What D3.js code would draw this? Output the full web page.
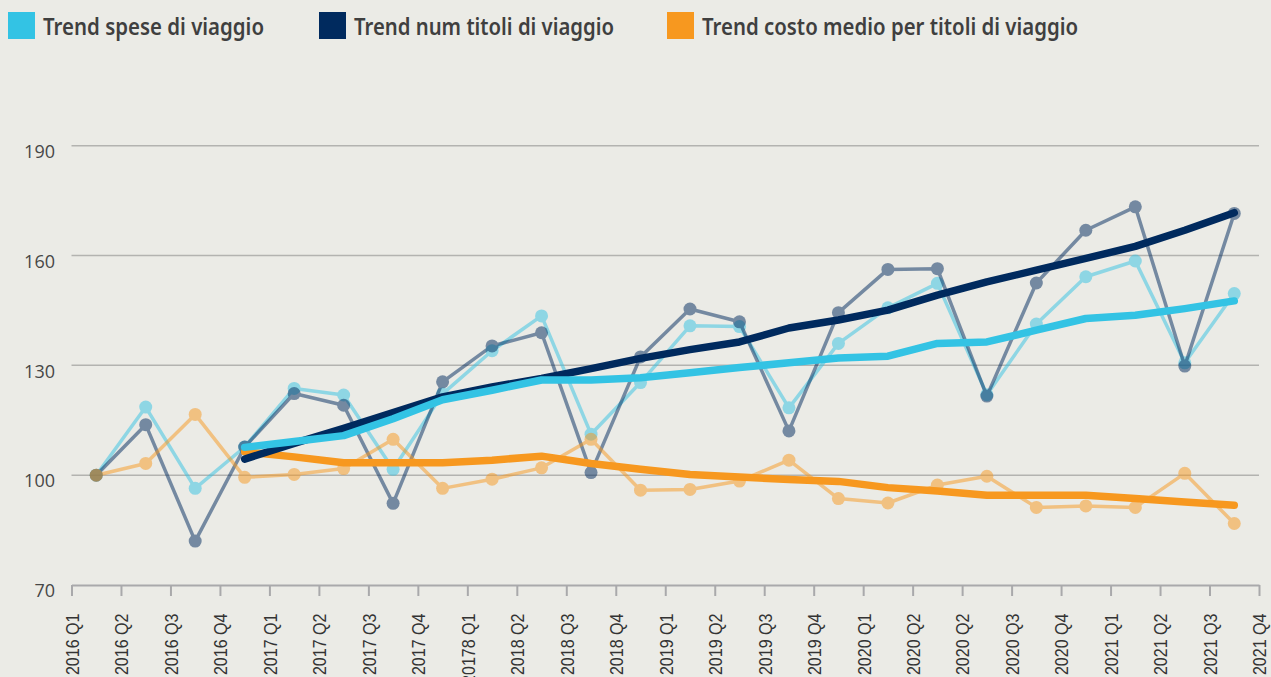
<!DOCTYPE html>
<html>
<head>
<meta charset="utf-8">
<script src="https://cdn.jsdelivr.net/npm/d3@7"></script>
<style>
  body { margin: 0; background: #ebebe6; }
  svg { display: block; }
</style>
</head>
<body>
<div id="chart"></div>
<script>
// tick labels (one more tick than data points, as in the original chart)
var quarterLabels = ["2016 Q1", "2016 Q2", "2016 Q3", "2016 Q4", "2017 Q1", "2017 Q2", "2017 Q3", "2017 Q4",
  "20178 Q1", "2018 Q2", "2018 Q3", "2018 Q4", "2019 Q1", "2019 Q2", "2019 Q3", "2019 Q4",
  "2020 Q1", "2020 Q2", "2020 Q2", "2020 Q3", "2020 Q4", "2021 Q1", "2021 Q2", "2021 Q3", "2021 Q4"];

var yTicks = [70, 100, 130, 160, 190];

// quarterly index values (light lines with markers)
var speseValues  = [100, 118.6, 96.4, 107.7, 123.7, 121.9, 101.6, 122.2, 134.0, 143.5, 111.2, 125.3,
                    140.8, 140.6, 118.4, 136.0, 145.7, 152.4, 122.0, 141.3, 154.2, 158.5, 130.7, 149.6];
var titoliValues = [100, 113.8, 82.0, 107.7, 122.3, 119.1, 92.3, 125.5, 135.3, 138.9, 100.7, 132.3,
                    145.4, 141.9, 112.1, 144.4, 156.2, 156.4, 121.6, 152.5, 166.9, 173.3, 129.8, 171.5];
var costoValues  = [100, 103.2, 116.6, 99.4, 100.2, 101.8, 109.8, 96.4, 98.9, 102.0, 109.8, 95.9,
                    96.1, 98.4, 104.1, 93.6, 92.4, 97.3, 99.7, 91.2, 91.6, 91.2, 100.5, 86.8];

// trend lines (start at the 4th quarter)
var speseTrend  = [null, null, null, 107.6, 109.2, 110.8, 115.4, 120.6, 123.2, 126.0, 126.0, 126.6,
                   128.0, 129.4, 130.7, 132.0, 132.5, 136.0, 136.4, 139.6, 142.8, 143.7, 145.5, 147.6];
var titoliTrend = [null, null, null, 104.4, 108.7, 112.8, 117.1, 121.4, 124.1, 126.4, 129.1, 131.9,
                   134.3, 136.4, 140.2, 142.4, 145.1, 149.2, 152.8, 156.0, 159.2, 162.5, 166.9, 171.7];
var costoTrend  = [null, null, null, 106.4, 105.0, 103.4, 103.4, 103.4, 104.1, 105.2, 103.2, 101.6,
                   100.2, 99.5, 98.8, 98.3, 96.6, 95.7, 94.5, 94.5, 94.5, 93.6, 92.7, 91.8];

var legendItems = [
  {name: "Trend spese di viaggio", color: "#33c3e4", x: 8, len: 221},
  {name: "Trend num titoli di viaggio", color: "#002a5e", x: 319, len: 260},
  {name: "Trend costo medio per titoli di viaggio", color: "#f7981f", x: 667, len: 376}
];

var W = 1271, H = 677;

var svg = d3.select("#chart").append("svg")
  .attr("width", W)
  .attr("height", H);

svg.append("rect").attr("width", W).attr("height", H).attr("fill", "#ebebe6");

var x = d3.scaleLinear().domain([0, quarterLabels.length - 1]).range([71.5, 1259]);
var y = d3.scaleLinear().domain([70, 190]).range([585, 145.7]);

// gridlines
svg.append("g")
  .selectAll("line")
  .data(yTicks.slice(1))
  .join("line")
  .attr("x1", x(0))
  .attr("x2", x(quarterLabels.length - 1))
  .attr("y1", d => y(d))
  .attr("y2", d => y(d))
  .attr("stroke", "#b3b3b0")
  .attr("stroke-width", 1.5);

// y labels
svg.append("g")
  .selectAll("text")
  .data(yTicks)
  .join("text")
  .attr("x", 55)
  .attr("y", d => y(d) + 6)
  .attr("dy", "0.35em")
  .attr("text-anchor", "end")
  .style("font-family", "'Open Sans', sans-serif")
  .style("font-size", "18px")
  .style("fill", "#474747")
  .text(d => d);

// x axis
var xAxis = d3.axisBottom(x)
  .tickValues(d3.range(quarterLabels.length))
  .tickFormat(i => quarterLabels[i])
  .tickSizeInner(11)
  .tickSizeOuter(0);

var gx = svg.append("g")
  .attr("transform", "translate(0," + y(70) + ")")
  .call(xAxis);
gx.select(".domain").attr("stroke", "#a9a9ab").attr("stroke-width", 2);
gx.selectAll(".tick line").attr("stroke", "#a9a9ab").attr("stroke-width", 2);
gx.selectAll(".tick text")
  .attr("transform", "rotate(-90)")
  .attr("x", -28.5)
  .attr("y", 0)
  .attr("dy", "0.36em")
  .attr("textLength", i => quarterLabels[i].length * 8.8)
  .attr("lengthAdjust", "spacingAndGlyphs")
  .style("text-anchor", "end")
  .style("font-family", "'Liberation Sans', Arial, sans-serif")
  .style("font-size", "19px")
  .style("fill", "#333");

var line = d3.line()
  .defined(d => d != null)
  .x((d, i) => x(i + 0.5))
  .y(d => y(d));

// light series: whole group semi transparent
function lightSeries(values, color) {
  var g = svg.append("g").attr("opacity", 0.5);
  g.append("path")
    .datum(values)
    .attr("d", line)
    .attr("fill", "none")
    .attr("stroke", color)
    .attr("stroke-width", 3.5)
    .attr("stroke-linejoin", "round");
  g.selectAll("circle")
    .data(values)
    .join("circle")
    .attr("cx", (d, i) => x(i + 0.5))
    .attr("cy", d => y(d))
    .attr("r", 6.5)
    .attr("fill", color);
}

lightSeries(speseValues, "#33c3e4");
lightSeries(titoliValues, "#002a5e");
lightSeries(costoValues, "#f7981f");

function trendLine(values, color) {
  svg.append("path")
    .datum(values)
    .attr("d", line)
    .attr("fill", "none")
    .attr("stroke", color)
    .attr("stroke-width", 7.5)
    .attr("stroke-linecap", "round")
    .attr("stroke-linejoin", "round");
}

trendLine(costoTrend, "#f7981f");
trendLine(titoliTrend, "#002a5e");
trendLine(speseTrend, "#33c3e4");

// legend
var lg = svg.append("g")
  .selectAll("g")
  .data(legendItems)
  .join("g")
  .attr("transform", d => "translate(" + d.x + ",12)");

lg.append("rect")
  .attr("width", 27)
  .attr("height", 27)
  .attr("fill", d => d.color);

lg.append("text")
  .attr("x", 35)
  .attr("y", 22.5)
  .attr("textLength", d => d.len)
  .attr("lengthAdjust", "spacingAndGlyphs")
  .style("font-family", "'Noto Sans', sans-serif")
  .style("font-weight", 600)
  .style("font-size", "23px")
  .style("fill", "#3f3f3f")
  .text(d => d.name);
</script>
</body>
</html>
